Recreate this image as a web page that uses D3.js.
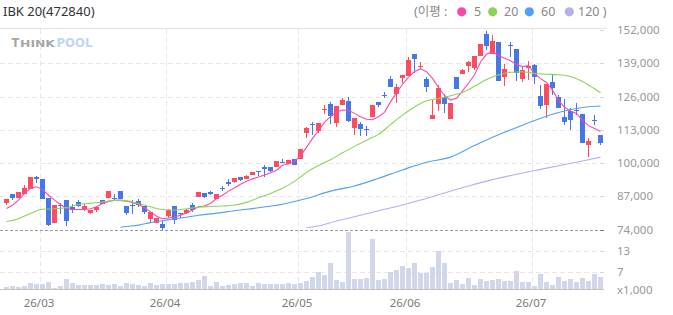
<!DOCTYPE html>
<html><head><meta charset="utf-8">
<script src="https://cdn.jsdelivr.net/npm/d3@7"></script>
<style>
body{margin:0;background:#fff;}
svg{display:block;font-family:"Noto Sans","Noto Sans CJK KR",sans-serif;}
</style></head><body>
<svg id="chart" width="673" height="315"></svg>
<script>
const title = "IBK 20(472840)";
const dates = [
"2026-02-20","2026-02-23","2026-02-24","2026-02-25","2026-02-26","2026-02-27",
"2026-03-03","2026-03-04","2026-03-05","2026-03-06","2026-03-09","2026-03-10","2026-03-11","2026-03-12","2026-03-13",
"2026-03-16","2026-03-17","2026-03-18","2026-03-19","2026-03-20","2026-03-23","2026-03-24","2026-03-25","2026-03-26","2026-03-27","2026-03-30","2026-03-31",
"2026-04-01","2026-04-02","2026-04-03","2026-04-06","2026-04-07","2026-04-08","2026-04-09","2026-04-10","2026-04-13","2026-04-14","2026-04-15","2026-04-16","2026-04-17",
"2026-04-20","2026-04-21","2026-04-22","2026-04-23","2026-04-24","2026-04-27","2026-04-28","2026-04-29","2026-04-30",
"2026-05-04","2026-05-06","2026-05-07","2026-05-08","2026-05-11","2026-05-12","2026-05-13","2026-05-14","2026-05-15",
"2026-05-18","2026-05-19","2026-05-20","2026-05-21","2026-05-22","2026-05-26","2026-05-27","2026-05-28","2026-05-29",
"2026-06-01","2026-06-02","2026-06-04","2026-06-05","2026-06-08","2026-06-09","2026-06-10","2026-06-11","2026-06-12",
"2026-06-15","2026-06-16","2026-06-17","2026-06-18","2026-06-19","2026-06-22","2026-06-23","2026-06-24","2026-06-25","2026-06-26","2026-06-29","2026-06-30",
"2026-07-01","2026-07-02","2026-07-03","2026-07-06","2026-07-07","2026-07-08","2026-07-09","2026-07-10","2026-07-13","2026-07-14","2026-07-15","2026-07-16"];

const open = [84200,87800,86400,87900,89800,94500,93700,86300,76600,83500,85500,82900,84700,82200,80300,81600,85500,86400,86500,89000,
83100,83700,85100,83100,78000,76600,76100,79300,83100,80500,80400,83500,86800,88100,88600,86000,90100,92600,92500,94500,
93700,95300,96800,98300,98400,98400,100500,99600,101500,101500,111700,115300,112500,121000,123100,115700,122700,124200,113500,115200,
113100,118100,123800,126700,132900,127100,133100,134100,142600,138000,132700,117300,123200,125700,117300,133600,134900,138100,137000,141900,
150500,142800,147300,133800,146100,144600,132900,137300,138300,126200,122700,131700,125800,118000,120300,120800,119100,107000,116900,110900];
const high = [86000,87900,88700,91300,94600,95100,93800,86300,83600,84300,85600,83900,85700,83800,81700,83000,85600,89100,87800,89100,
83200,85500,86000,83200,80900,78500,77200,82200,83200,80600,82200,84200,88700,88200,88900,87800,91000,93700,94200,94600,
95200,96500,96900,99200,98500,100800,101500,101300,101600,105500,114200,116000,115700,122700,123800,122400,125300,125800,117600,116000,
114400,122800,123900,127600,134100,130900,134500,141300,142700,139600,133800,124900,130500,127000,123600,133700,136900,140000,142000,146700,
151600,150000,147400,138800,147300,144700,137600,139900,138700,130500,131000,134400,126600,125000,121500,123500,119200,109700,118800,111000];
const low = [83500,85700,86300,87800,89700,92000,85900,75400,76500,80000,75400,80300,82700,81200,80200,80900,83800,86300,85500,85800,
79700,80000,82900,79900,76900,76500,73700,78500,76300,78500,80000,80900,86700,86400,87400,85900,89100,91200,92100,92900,
93600,95200,94900,94600,96300,98300,100100,99500,99200,101400,109900,111000,111800,119100,115100,114200,122600,116000,111000,110400,
110400,118000,121900,125400,129700,123600,131200,134000,135100,136600,127900,117200,120400,119700,117200,128800,134800,135700,136400,141800,
144200,142700,132100,130100,141500,132100,131600,132500,130900,121000,117500,126700,121400,114700,112900,118800,107700,102300,114800,107000];
const close = [85900,86400,88600,90200,94500,93600,86000,75700,83500,83300,77200,81600,83100,83200,81600,82900,83900,89000,86300,85900,
80500,83600,83600,80800,80800,78400,74500,81700,77600,79900,81700,81800,88600,86800,87800,87700,90000,91700,94100,93300,
94900,96400,96700,97700,96800,100700,100400,101100,99300,105400,113500,114700,115600,121100,118500,122300,124600,116500,117500,113300,
113000,122700,122700,126600,129800,129600,134400,140300,140700,138100,129700,118800,129200,122900,123500,128900,136400,139500,141900,146600,
145800,147700,132200,136800,146000,135200,136400,138100,133800,122300,130900,129300,121500,116000,116800,120700,107900,108500,116800,107900];
// volume, thousands of shares
const volume = [2.6,2.9,2.6,2.9,3.7,3.5,3.5,4.0,2.3,2.9,4.9,3.7,3.2,3.2,3.2,3.2,3.5,3.2,3.5,2.9,
3.7,3.5,3.2,2.9,3.7,3.2,3.5,3.5,3.5,3.7,3.7,4.0,4.6,5.8,2.9,4.0,2.9,3.2,3.5,3.7,
3.7,2.9,3.7,3.5,3.5,3.5,3.5,3.7,3.5,3.7,4.3,5.5,6.9,6.1,9.6,4.6,4.0,18.7,4.9,4.9,
5.2,16.5,4.6,4.9,6.9,7.5,8.7,8.1,9.6,6.7,6.7,8.4,13.0,9.6,3.7,4.6,3.5,5.2,3.2,4.9,
4.3,4.6,4.9,4.3,4.3,7.2,4.0,4.0,2.9,6.4,4.0,3.2,5.5,4.3,4.9,4.0,5.2,4.3,6.4,5.5];

// moving averages: [day index, value]
const ma5 = [82200,83500,85500,88100,90100,90700,89700,87400,85500,83800,82200,81800,81800,81800,82100,82900,84200,85000,85400,85500,
85100,84600,83800,82500,80900,79200,78200,78500,78900,79600,80500,81600,82900,83200,84200,86100,87400,89000,90300,91700,
92900,93800,94500,95300,96200,97200,99100,99700,100700,102700,106100,109600,112600,116000,118100,119900,120700,120600,119400,118100,
117100,116900,118100,119800,123900,127400,130800,133500,135800,136800,135700,133100,129600,126400,124600,125300,128200,131200,134500,139500,
142500,143500,142000,141000,140000,138500,137700,138100,135000,133000,131500,128500,124500,121800,120300,119400,116700,114600,113500,112300].map((v,i)=>[i,v]);
const ma20 = [[0,77100],[2,78200],[4,80300],[6,81900],[8,82100],[10,82600],[12,83800],[14,84300],[16,84700],[18,85400],[20,85200],[22,84200],
[24,82900],[26,81800],[28,81600],[30,82100],[32,82700],[34,83000],[36,83200],[38,83600],[40,84600],[42,86400],[44,88100],[46,90100],
[48,92800],[50,96300],[52,99000],[54,101300],[56,104000],[58,106500],[60,108900],[62,111200],[64,115000],[66,118700],[68,121900],
[70,124300],[72,125200],[74,126300],[76,127600],[78,130000],[80,132600],[82,134500],[84,135500],[86,135700],[88,135000],[90,134700],
[92,134500],[94,133800],[96,131900],[98,129000],[99,127500]];
const ma60 = [[19,74900],[20,75200],[22,75700],[24,76700],[26,77400],[28,78200],[30,78800],[32,79600],[34,80100],[38,81300],[42,82500],
[46,83900],[50,86100],[54,89000],[58,91000],[62,94000],[66,97300],[70,100300],[74,102300],[78,106800],[82,111000],[86,114800],
[90,118300],[94,120900],[97,122000],[99,122300]];
const ma120 = [[50,74800],[51,75000],[55,77300],[59,79600],[63,81900],[66,83600],[69,85500],[73,88300],[77,91000],[81,93500],
[85,95600],[89,97500],[93,99400],[97,101300],[99,102300]];

const priceTicks = [152000,139000,126000,113000,100000,87000,74000];
const volumeTicks = [13,7];
const legendNames = ["5","20","60","120"];
const colors = {up:"#ff4b60", down:"#4677e9", vol:"#d2d6e9",
  ma:["#ff48a6","#8dd35a","#529ff7","#b4b0ec"]};

const svg = d3.select("#chart");
const x = d3.scaleBand().domain(dates).range([4,604]).paddingInner(0).paddingOuter(0);
const y = d3.scaleLinear().domain([74000,152000]).range([229.5,30]);
const yv = d3.scaleLinear().domain([2,19]).range([289,230.5]);
const cx = d => x(d) + 2.5;
const px = v => Math.round(v) + 0.5;

// title
svg.append("text").attr("x",3).attr("y",15.5).attr("font-size",13).attr("fill","#333").text(title);

// legend
const lg = svg.append("g").attr("font-size",12.5).attr("fill","#888");
lg.append("text").attr("x",414).attr("y",16).text("(이평 :");
const dotX = [461.7,492.7,529.3,569.3], txtX = [474,504,541,578];
legendNames.forEach((n,i)=>{
  lg.append("circle").attr("cx",dotX[i]).attr("cy",11.8).attr("r",4.6).attr("fill",colors.ma[i]);
  lg.append("text").attr("x",txtX[i]).attr("y",16).text(i===3 ? n+" )" : n);
});

// watermark
const wm = svg.append("g").attr("font-weight","bold").attr("font-family","'DejaVu Sans',sans-serif");
wm.append("text").attr("x",11.5).attr("y",47.3).attr("font-size",11.5).attr("fill","#a6a6a6").text("T");
wm.append("text").attr("x",20).attr("y",47.3).attr("font-size",8.8).attr("fill","#a6a6a6")
  .attr("textLength",35).attr("lengthAdjust","spacingAndGlyphs").text("HINK");
wm.append("text").attr("x",56.5).attr("y",47.3).attr("font-size",11.5).attr("fill","#c3d5ef")
  .attr("textLength",36).attr("lengthAdjust","spacingAndGlyphs").text("POOL");

// frame & grid
const grid = svg.append("g").attr("shape-rendering","crispEdges");
grid.append("line").attr("x1",0).attr("x2",606).attr("y1",28.5).attr("y2",28.5).attr("stroke","#e3e3e3");
priceTicks.filter(p=>p!==152000 && p!==74000).forEach(p=>{
  grid.append("line").attr("x1",0).attr("x2",604).attr("y1",px(y(p))).attr("y2",px(y(p)))
    .attr("stroke","#e8e8e8").attr("stroke-dasharray","5,3");
});
volumeTicks.forEach(v=>{
  grid.append("line").attr("x1",0).attr("x2",604).attr("y1",px(yv(v))).attr("y2",px(yv(v)))
    .attr("stroke","#e8e8e8").attr("stroke-dasharray","5,3");
});
const monthStarts = dates.filter((d,i)=> i>0 && d.slice(5,7)!==dates[i-1].slice(5,7));
monthStarts.forEach(d=>{
  grid.append("line").attr("x1",x(d)+0.5).attr("x2",x(d)+0.5).attr("y1",29).attr("y2",289)
    .attr("stroke","#e8e8e8").attr("stroke-dasharray","5,3");
  svg.append("text").attr("x",x(d)-1).attr("y",307).attr("text-anchor","middle")
    .attr("font-size",11.5).attr("fill","#7a7a7a").text(d.slice(2,4)+"/"+d.slice(5,7));
});
grid.append("line").attr("x1",0).attr("x2",604).attr("y1",230.5).attr("y2",230.5)
  .attr("stroke","#9c9c9c").attr("stroke-dasharray","3,2");
grid.append("line").attr("x1",0).attr("x2",604).attr("y1",289.5).attr("y2",289.5).attr("stroke","#c4c4c4");

// right axis
const ax = svg.append("g").attr("font-size",11.5).attr("fill","#999");
priceTicks.forEach(p=>{
  const yy = p===74000 ? 230.5 : px(y(p));
  grid.append("line").attr("x1",600).attr("x2",604).attr("y1",yy).attr("y2",yy).attr("stroke", p===74000?"#777":"#d5d5d5");
  ax.append("text").attr("x",617).attr("y",y(p)).attr("dy","0.35em").text(d3.format(",")(p));
});
volumeTicks.forEach(v=>{
  grid.append("line").attr("x1",600).attr("x2",604).attr("y1",px(yv(v))).attr("y2",px(yv(v))).attr("stroke","#d5d5d5");
  ax.append("text").attr("x",617).attr("y",yv(v)).attr("dy","0.35em").text(v);
});
ax.append("text").attr("x",617).attr("y",289.5).attr("dy","0.35em").text("x1,000");

// volume bars
svg.append("g").attr("shape-rendering","crispEdges").selectAll("rect").data(dates).join("rect")
  .attr("x",d=>x(d)).attr("width",5)
  .attr("y",(d,i)=>yv(volume[i])).attr("height",(d,i)=>289-yv(volume[i]))
  .attr("fill",colors.vol);

// candles
const cg = svg.append("g").attr("shape-rendering","crispEdges");
dates.forEach((d,i)=>{
  const up = close[i] >= open[i];
  const col = up ? colors.up : colors.down;
  cg.append("rect").attr("x",x(d)+2).attr("width",1)
    .attr("y",y(high[i])).attr("height",Math.max(1,y(low[i])-y(high[i]))).attr("fill",col);
  const top = y(Math.max(open[i],close[i])), bot = y(Math.min(open[i],close[i]));
  cg.append("rect").attr("x",x(d)).attr("width",5)
    .attr("y",top).attr("height",Math.max(1,bot-top)).attr("fill",col);
});

// moving averages
[ma5,ma20,ma60,ma120].forEach((s,k)=>{
  const line = d3.line().x(p=>cx(dates[p[0]])).y(p=>y(p[1])).curve(k===0?d3.curveLinear:d3.curveMonotoneX);
  svg.append("path").attr("d",line(s)).attr("fill","none").attr("stroke",colors.ma[k]).attr("stroke-width",1.1);
});
</script></body></html>
